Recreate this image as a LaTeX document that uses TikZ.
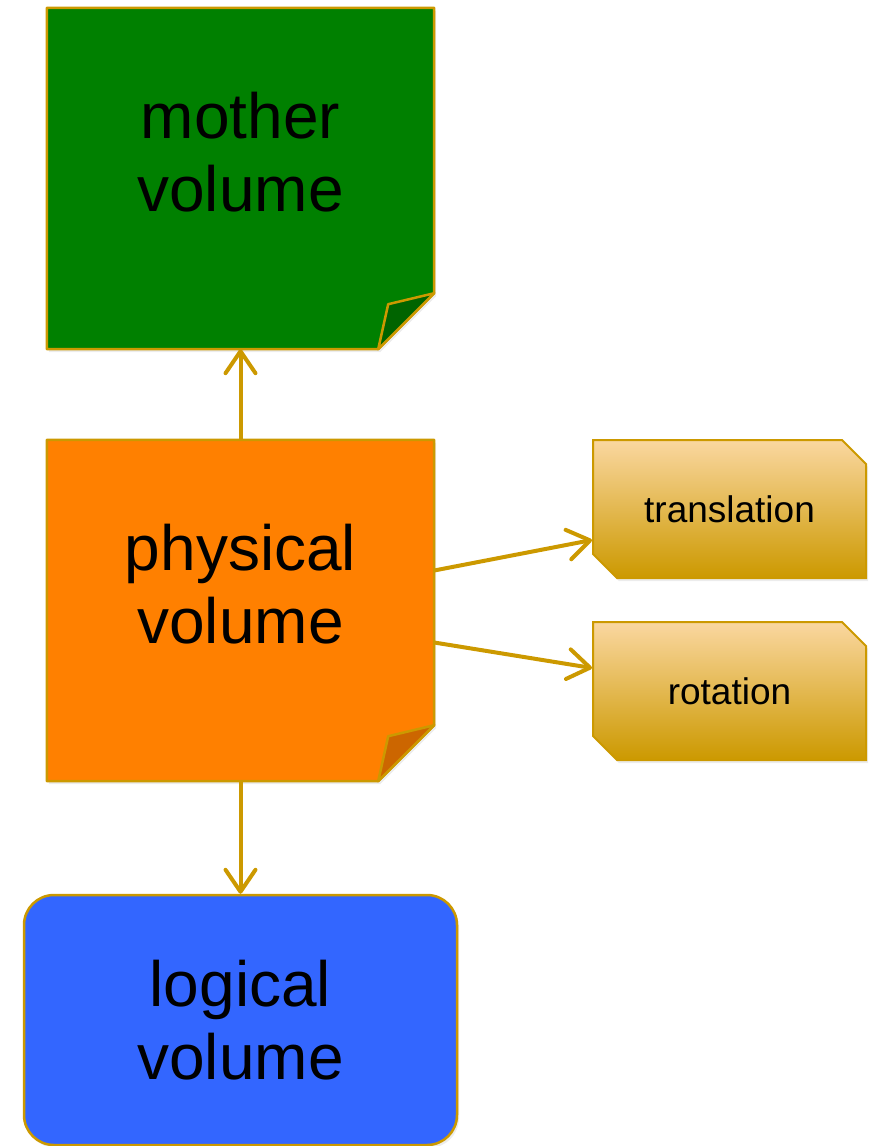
\documentclass[tikz,border=0pt]{standalone}
\usepackage{fontspec}
\setmainfont{Liberation Sans}
\usetikzlibrary{arrows.meta}
\usetikzlibrary{shapes.misc}
\usetikzlibrary{backgrounds}
\usetikzlibrary{shadows}
\definecolor{mgold}{RGB}{204,153,0}
\definecolor{mgreen}{RGB}{0,128,0}
\definecolor{mdkgreen}{RGB}{0,100,0}
\definecolor{morange}{RGB}{255,128,0}
\definecolor{mdkorange}{RGB}{204,102,0}
\definecolor{mblue}{RGB}{51,102,255}
\definecolor{mpeach}{RGB}{250,215,160}
\tikzset{note/.style = {minimum width=387pt, minimum height=341pt, align=center,
                        font=\fontsize{64}{73}\selectfont, text depth=54pt},
         notepath/.style = {draw=mgold, line width=2.5pt, line join=round},
         lvol/.style = {rounded corners=30pt, draw=mgold, line width=2.5pt, fill=mblue,
                        minimum width=433pt, minimum height=250pt, align=center,
                        font=\fontsize{64}{73}\selectfont,
                        drop shadow={shadow xshift=2pt, shadow yshift=-3pt, opacity=0.15}},
         tag/.style = {chamfered rectangle, chamfered rectangle corners={north east, south west},
                       chamfered rectangle xsep=12pt, chamfered rectangle ysep=12pt,
                       minimum width=273pt, minimum height=138pt, draw=mgold, line width=2pt,
                       top color=mpeach, bottom color=mgold,
                       font=\fontsize{37}{44}\selectfont,
                       drop shadow={shadow xshift=2pt, shadow yshift=-3pt, opacity=0.15}},
         link/.style = {draw=mgold, line width=4pt,
                        -{Straight Barb[length=22pt, width=30pt, round]}}}
% sticky note with a folded corner
\newcommand{\foldnote}[3]{%
  \draw [notepath, fill=#2, drop shadow={shadow xshift=2pt, shadow yshift=-3pt, opacity=0.15}]
    (#1.north west) -- (#1.north east) -- ([yshift=56pt]#1.south east)
    -- ([xshift=-56pt]#1.south east) -- (#1.south west) -- cycle;
  \draw [notepath, fill=#3] ([yshift=56pt]#1.south east)
    -- ([xshift=-46pt, yshift=45pt]#1.south east) -- ([xshift=-56pt]#1.south east) -- cycle;
}

\begin{document}
\begin{tikzpicture}[x=1pt, y=-1pt]
  \useasboundingbox (0, 0) rectangle (875, 1146);
  \node [note] (mother) at (240.5, 178.5) {mother\\volume};
  \node [note] (physical) at (240.5, 610.5) {physical\\volume};
  \node [lvol] (logical) at (240.5, 1020) {logical\\volume};
  \node [tag] (translation) at (729.5, 509) {translation};
  \node [tag] (rotation) at (729.5, 691) {rotation};
  \begin{scope}[on background layer]
    \foldnote{mother}{mgreen}{mdkgreen}
    \foldnote{physical}{morange}{mdkorange}
  \end{scope}
  \draw [link] (physical) -- (mother);
  \draw [link] (physical) -- (logical);
  \draw [link] ([yshift=40pt]physical.east) -- ([yshift=-31pt]translation.west);
  \draw [link] ([yshift=-32pt]physical.east) -- ([yshift=23pt]rotation.west);
\end{tikzpicture}
\end{document}
